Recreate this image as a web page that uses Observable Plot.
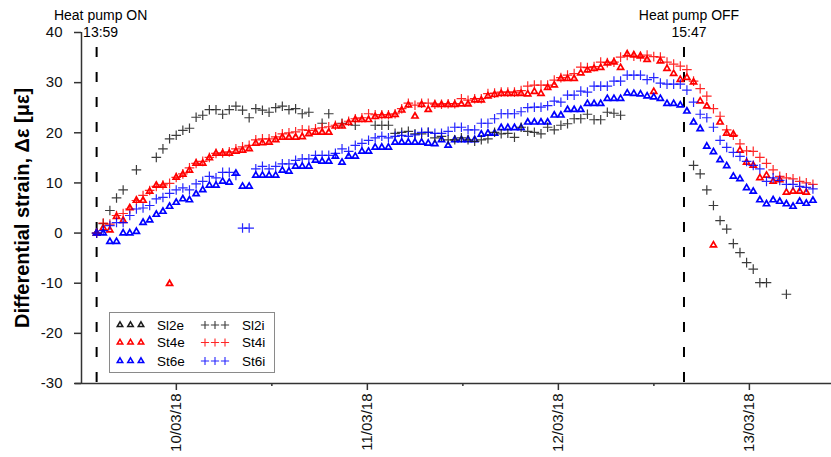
<!DOCTYPE html>
<html><head><meta charset="utf-8">
<script src="https://cdn.jsdelivr.net/npm/d3@7"></script>
<script src="https://cdn.jsdelivr.net/npm/@observablehq/plot@0.6"></script>
<style>
body{margin:0;background:#fff;}
#chart{position:relative;width:831px;height:457px;font-family:"Liberation Sans",Arial,sans-serif;}
#chart svg{display:block;}
</style></head><body><div id="chart"></div>
<script>
// ---- data ----
const seriesNames = ["Sl2e","St4e","St6e","Sl2i","St4i","St6i"];
const seriesColors = ["#1a1a1a","#ff0000","#0000ff","#1a1a1a","#ff0000","#0000ff"];
const seriesKinds = ["triangle","triangle","triangle","plus","plus","plus"];
const sampleStart = "2018-03-09T13:59Z";   // first logged reading (heat pump ON)
const sampleStepMinutes = 50;              // logging interval
const heatPumpOn = "2018-03-09T13:59Z";
const heatPumpOff = "2018-03-12T15:47Z";
const onLabel = ["Heat pump ON", "13:59"];
const offLabel = ["Heat pump OFF", "15:47"];
const dayTicks = ["2018-03-10T00:00Z","2018-03-11T00:00Z","2018-03-12T00:00Z","2018-03-13T00:00Z"];
const noonTicks = ["2018-03-10T12:00Z","2018-03-11T12:00Z","2018-03-12T12:00Z"];
const yTicks = [-30,-20,-10,0,10,20,30,40];
const yLabel = "Differential strain, Δε [με]";

const Sl2e = [0];
const St4e = [0,1.0,0.6,3.3,2.5,5.0,6.5,6.5,8.3,9.5,9.5,-10.1,11.1,11.7,12.5,13.9,13.9,15.0,15.9,15.9,
  15.9,16.3,16.5,16.8,17.9,18.0,18.1,18.6,19.1,19.1,19.1,19.2,19.8,20.1,20.1,20.1,21.3,21.3,22.0,22.6,
  22.6,22.6,23.2,23.4,23.4,23.6,24.5,25.5,23.3,25.6,24.6,25.6,25.6,25.6,25.6,25.7,25.7,26.5,26.5,27.3,
  27.6,27.8,27.8,27.8,27.8,27.7,28.2,27.8,29.0,29.5,30.8,30.8,30.8,31.9,32.5,32.8,33.0,33.9,34.1,33.0,
  35.7,35.5,35.3,34.6,28.2,34.3,32.8,31.8,30.6,31.0,30.1,26.3,25.3,-2.4,22.1,19.9,19.7,16.5,14.1,13.5,
  11.0,11.5,10.3,10.6,8.1,8.3,8.3,8.1,null];
const St6e = [0,0,-1.7,-1.7,0,0,0.3,2.1,2.6,3.7,4.3,5.3,6.1,6.8,6.6,7.8,8.6,9.5,9.5,10.3,
  10.1,11.9,9.3,9.3,11.5,11.5,11.5,11.5,12.5,12.3,13.3,13.3,13.3,14.5,14.3,14.3,15.3,14.1,15.3,15.3,
  16.3,16.3,17.1,17.1,17.1,18.1,18.1,18.1,18.1,18.1,17.9,17.8,18.6,17.5,18.6,18.6,18.6,18.6,19.7,19.9,
  19.9,21.0,21.0,21.0,21.0,22.1,22.1,22.1,22.1,23.5,23.5,24.6,24.6,24.6,25.8,25.8,25.8,26.8,26.8,26.8,
  27.9,27.8,27.7,27.3,27.1,26.8,25.8,25.8,25.5,24.3,22.1,20.8,17.3,16.2,14.6,13.4,11.3,10.8,9.0,8.3,
  6.6,5.8,6.6,6.3,5.8,5.3,6.3,5.9,6.5];
const Sl2i = [0,1.9,4.5,7.0,8.6,null,12.6,null,null,15.1,16.8,18.8,19.5,20.5,20.9,23.1,23.5,24.6,24.6,23.7,
  24.6,25.3,24.5,23.0,24.8,24.5,24.1,25.0,25.3,24.6,24.8,23.8,24.1,null,21.9,23.8,null,21.9,null,21.5,
  null,null,21.5,21.5,21.5,19.9,20.1,20.3,19.8,19.8,20.1,19.0,19.3,18.6,18.6,19.0,18.6,18.3,18.6,18.8,
  20.1,19.8,19.9,19.1,21.1,20.3,20.1,19.8,21.1,20.6,21.5,21.8,22.8,22.8,23.7,22.6,22.6,24.1,23.9,23.5,
  null,null,null,null,null,null,null,null,null,null,13.5,11.8,8.6,5.5,2.5,0.8,-2.1,-3.9,-5.9,-7.2,
  -9.9,-9.9,null,null,-12.2];
const St4i = [0,2.0,1.8,3.5,3.9,4.8,6.5,7.5,8.5,9.3,9.6,9.9,11.1,11.8,13.0,13.9,14.3,15.1,15.9,16.0,
  16.2,16.8,17.2,17.5,18.6,18.8,18.8,19.2,19.8,20.0,20.2,20.6,20.5,20.8,21.0,21.2,21.5,21.8,22.3,22.8,
  23.0,23.8,23.6,23.6,23.6,23.8,24.8,25.9,25.5,25.9,25.9,25.7,25.7,25.8,25.8,26.8,26.5,26.8,26.8,27.8,
  27.9,28.1,28.1,28.1,28.4,29.3,29.5,29.5,29.5,30.5,31.0,31.5,31.8,33.1,33.0,33.2,34.1,34.0,34.1,35.1,
  35.4,35.3,35.2,35.5,35.2,35.1,34.1,33.7,33.3,32.6,30.3,28.8,27.3,24.8,23.3,20.6,19.5,17.8,16.4,16.3,
  15.1,13.9,12.6,11.3,11.0,10.8,10.3,10.0,9.7];
const St6i = [0,0.5,1.5,2.1,2.1,3.5,4.8,5.0,5.5,6.8,7.1,7.9,8.6,9.0,8.6,9.8,10.3,11.3,11.0,12.1,
  12.1,11.5,1.0,1.0,12.8,13.3,12.8,13.3,13.8,13.8,14.5,14.8,14.8,15.5,15.5,15.5,15.9,16.8,16.3,17.5,
  17.9,18.5,19.0,19.3,19.0,19.3,19.5,19.3,19.6,20.1,20.1,19.9,19.9,20.3,21.1,21.1,20.6,20.6,21.9,21.9,
  22.8,23.8,23.8,23.8,24.2,25.0,25.1,25.1,25.4,26.3,26.1,27.5,27.5,28.3,28.1,29.3,29.3,29.3,30.3,30.3,
  31.5,31.5,31.5,30.6,31.0,29.9,29.7,29.7,29.7,28.5,26.1,23.7,23.0,21.1,18.5,17.1,16.1,15.3,14.3,13.5,
  12.8,10.3,11.0,10.5,9.7,9.7,9.3,9.1,8.8];
const seriesValues = [Sl2e, St4e, St6e, Sl2i, St4i, St6i];

// ---- build table ----
const t0 = new Date(sampleStart).getTime();
const rows = [];
seriesNames.forEach((name, k) => {
  seriesValues[k].forEach((v, i) => {
    if (v !== null && v !== undefined) rows.push({series: name, t: new Date(t0 + i * sampleStepMinutes * 60000), v});
  });
});

const font = '"Liberation Sans", Arial, sans-serif';
const xDomain = [new Date("2018-03-09T12:05Z"), new Date("2018-03-13T10:19Z")];
const axisColor = "#333";

const dotMarks = seriesNames.map((name, k) => {
  const data = rows.filter(d => d.series === name);
  return seriesKinds[k] === "triangle"
    ? Plot.dot(data, {x: "t", y: "v", symbol: "triangle2", r: 2.9, fill: "none",
        stroke: seriesColors[k], strokeWidth: 1.7})
    : Plot.dot(data, {x: "t", y: "v", symbol: "plus", r: 3.2, fill: "none",
        stroke: seriesColors[k], strokeWidth: 1.2, strokeOpacity: 0.85});
});

const onDate = new Date(heatPumpOn), offDate = new Date(heatPumpOff);

const chart = Plot.plot({
  width: 831, height: 457,
  marginLeft: 81, marginRight: 0, marginTop: 32, marginBottom: 74,
  style: {fontFamily: font, fontSize: "15px", color: "#000", background: "#fff", overflow: "visible"},
  x: {type: "utc", domain: xDomain},
  y: {domain: [-30, 40]},
  marks: [
    Plot.ruleX([onDate, offDate], {y1: 37, y2: -30.8, stroke: "#000", strokeWidth: 2, strokeDasharray: "10,15"}),
    Plot.axisY({ticks: yTicks, tickFormat: d => String(d), tickSize: 7, tickPadding: 12, fontSize: 15,
      stroke: axisColor, strokeWidth: 1.5, fill: "#111", label: null}),
    Plot.axisX({ticks: dayTicks.map(d => new Date(d)), tickFormat: d3.utcFormat("%d/%m/%y"), tickRotate: -90,
      tickSize: 7, tickPadding: 3, fontSize: 15, stroke: axisColor, strokeWidth: 1.5, fill: "#111", label: null}),
    Plot.axisX({ticks: noonTicks.map(d => new Date(d)), tickFormat: () => "", tickSize: 3, stroke: axisColor, strokeWidth: 1.5, label: null}),
    Plot.ruleX([xDomain[0]], {stroke: axisColor, strokeWidth: 1.5}),
    Plot.ruleY([-30], {x1: new Date("2018-03-09T11:20Z"), x2: xDomain[1], stroke: axisColor, strokeWidth: 1.5}),
    ...dotMarks,
    Plot.text([onDate], {x: d => d, frameAnchor: "top", lineAnchor: "middle", textAnchor: "middle", dy: -16.5, dx: 4, text: () => onLabel[0], fontSize: 14, fill: "#000"}),
    Plot.text([onDate], {x: d => d, frameAnchor: "top", lineAnchor: "middle", textAnchor: "middle", dy: 0, dx: 4, text: () => onLabel[1], fontSize: 14, fill: "#000"}),
    Plot.text([offDate], {x: d => d, frameAnchor: "top", lineAnchor: "middle", textAnchor: "middle", dy: -16.5, dx: 5, text: () => offLabel[0], fontSize: 14, fill: "#000"}),
    Plot.text([offDate], {x: d => d, frameAnchor: "top", lineAnchor: "middle", textAnchor: "middle", dy: 0, dx: 5, text: () => offLabel[1], fontSize: 14, fill: "#000"}),
    Plot.text([yLabel], {frameAnchor: "left", textAnchor: "middle", lineAnchor: "middle", dx: -59, rotate: -90, text: d => d, fontSize: 20, fontWeight: "bold", fill: "#000"})
  ]
});
document.getElementById("chart").appendChild(chart);

// ---- legend ----
const leg = d3.select("#chart").append("svg")
  .attr("width", 167).attr("height", 62)
  .style("position", "absolute").style("left", "109px").style("top", "312px")
  .style("font-family", font);
leg.append("rect").attr("x", 0.5).attr("y", 0.5).attr("width", 165).attr("height", 60)
  .attr("fill", "#fff").attr("stroke", "#8a8a8a").attr("stroke-width", 1);
const rowY = [13, 30.5, 49];
seriesNames.forEach((name, k) => {
  const row = k % 3, col = Math.floor(k / 3);
  const y = rowY[row];
  const xs = col === 0 ? [11, 21.5, 32] : [96, 106, 116];
  const tx = col === 0 ? 48 : 133;
  xs.forEach(x => {
    if (seriesKinds[k] === "triangle") {
      leg.append("path").attr("d", d3.symbol(d3.symbolTriangle2, 22)())
        .attr("transform", `translate(${x},${y})`).attr("fill", "none")
        .attr("stroke", seriesColors[k]).attr("stroke-width", 1.5);
    } else {
      leg.append("path").attr("d", d3.symbol(d3.symbolPlus, 24)())
        .attr("transform", `translate(${x},${y})`).attr("fill", "none")
        .attr("stroke", seriesColors[k]).attr("stroke-width", 1.1).attr("stroke-opacity", 0.85);
    }
  });
  leg.append("text").attr("x", tx).attr("y", y).attr("dy", "0.35em")
    .attr("font-size", 13.5).attr("fill", "#000").text(name);
});
</script></body></html>
